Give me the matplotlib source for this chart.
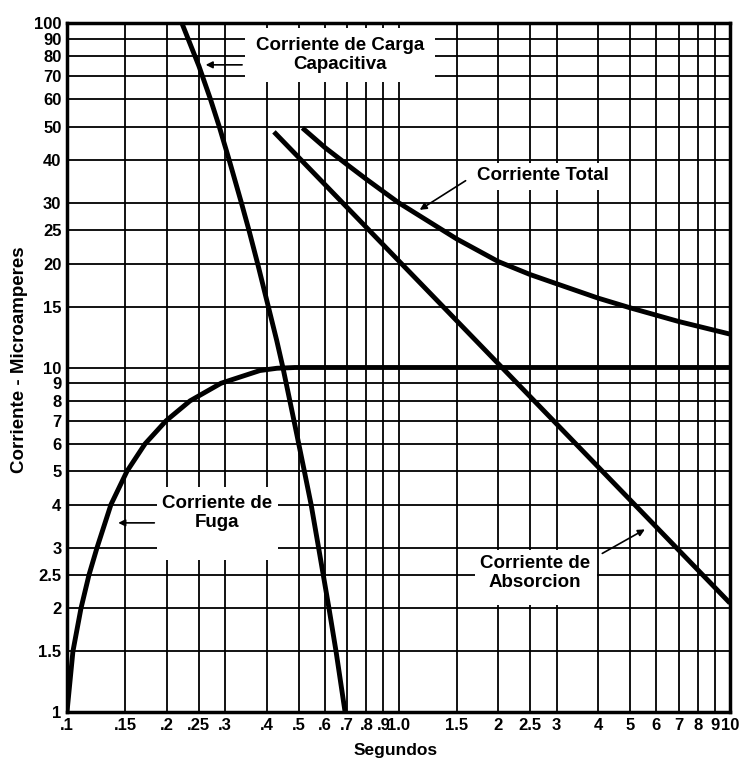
import numpy as np
import matplotlib
matplotlib.use('Agg')
import matplotlib.pyplot as plt
from matplotlib.patches import Rectangle

plt.rcParams['font.family'] = ['Liberation Sans', 'DejaVu Sans']
plt.rcParams['font.weight'] = 'bold'

# Ejes (escala logaritmica)
x_ticks = [0.1, 0.15, 0.2, 0.25, 0.3, 0.4, 0.5, 0.6, 0.7, 0.8, 0.9, 1.0,
           1.5, 2, 2.5, 3, 4, 5, 6, 7, 8, 9, 10]
x_labels = ['.1', '.15', '.2', '.25', '.3', '.4', '.5', '.6', '.7', '.8', '.9', '1.0',
            '1.5', '2', '2.5', '3', '4', '5', '6', '7', '8', '9', '10']
y_ticks = [1, 1.5, 2, 2.5, 3, 4, 5, 6, 7, 8, 9, 10,
           15, 20, 25, 30, 40, 50, 60, 70, 80, 90, 100]
y_labels = ['1', '1.5', '2', '2.5', '3', '4', '5', '6', '7', '8', '9', '10',
            '15', '20', '25', '30', '40', '50', '60', '70', '80', '90', '100']

# Corriente de carga capacitiva
cap_t = [0.222, 0.250, 0.271, 0.288, 0.3085, 0.336, 0.354, 0.376, 0.405, 0.429,
         0.448, 0.484, 0.520, 0.545, 0.574, 0.617, 0.648, 0.69]
cap_i = [100, 75, 60, 50, 40, 30, 25, 20, 15, 12,
         10, 7, 5, 4, 3, 2, 1.5, 1]

# Corriente de fuga
fuga_t = [0.1, 0.1042, 0.1102, 0.1165, 0.1232, 0.1357, 0.1517, 0.1719, 0.1989,
          0.235, 0.2914, 0.382, 0.43, 0.487, 0.7, 1.0, 2.0, 5.0, 10]
fuga_i = [1, 1.5, 2, 2.5, 3, 4, 5, 6, 7,
          8, 9, 9.8, 9.95, 10, 10, 10, 10, 10, 10]

# Corriente de absorcion
abs_t = [0.421, 10]
abs_i = [48.3, 2.07]

# Corriente total
tot_t = [0.513, 0.6, 0.7, 0.8, 0.9, 1.0, 1.5, 2.0, 2.5, 3.0, 4.0, 5.0, 7.0, 10]
tot_i = [49.6, 43.5, 38.8, 35.2, 32.4, 30.1, 23.6, 20.3, 18.6, 17.5, 15.9, 14.9, 13.6, 12.5]

fig = plt.figure(figsize=(7.42, 7.63), dpi=100)
ax = fig.add_axes([67 / 742, 51 / 763, 663 / 742, 689 / 763])
ax.set_xscale('log')
ax.set_yscale('log')
ax.set_xlim(0.1, 10)
ax.set_ylim(1, 100)
ax.set_xticks(x_ticks)
ax.set_xticklabels(x_labels)
ax.set_yticks(y_ticks)
ax.set_yticklabels(y_labels)
ax.minorticks_off()
ax.tick_params(length=0, labelsize=12, pad=4)
ax.set_axisbelow(True)
ax.grid(True, color='black', linewidth=1.3)
for sp in ax.spines.values():
    sp.set_linewidth(2.5)

# Curvas
lw = 3.5
for t, i in [(cap_t, cap_i), (fuga_t, fuga_i), (abs_t, abs_i), (tot_t, tot_i)]:
    ax.plot(t, i, color='black', lw=lw, zorder=3,
            solid_capstyle='butt', solid_joinstyle='round')

# Cajas blancas para las etiquetas
def caja(x0, x1, y0, y1):
    ax.add_patch(Rectangle((x0, y0), x1 - x0, y1 - y0, facecolor='white',
                           edgecolor='none', zorder=1))

caja(0.344, 1.289, 67.4, 96.7)
caja(0.187, 0.433, 2.76, 4.50)
caja(1.64, 4.33, 32.7, 39.2)
caja(1.70, 3.97, 2.04, 2.95)

fs = 13.5
ax.text(0.666, 80.7, 'Corriente de Carga\nCapacitiva', ha='center', va='center',
        fontsize=fs, fontweight='bold', linespacing=1.1, zorder=4)
ax.text(0.283, 3.78, 'Corriente de\nFuga', ha='center', va='center',
        fontsize=fs, fontweight='bold', linespacing=1.1, zorder=4)
ax.text(2.73, 36.2, 'Corriente Total', ha='center', va='center',
        fontsize=fs, fontweight='bold', zorder=4)
ax.text(2.58, 2.53, 'Corriente de\nAbsorcion', ha='center', va='center',
        fontsize=fs, fontweight='bold', linespacing=1.1, zorder=4)

arrow = dict(arrowstyle='-|>', color='black', lw=1.2, mutation_scale=10)
ax.annotate('', xy=(0.257, 75.6), xytext=(0.344, 75.6), arrowprops=arrow, zorder=4)
ax.annotate('', xy=(0.140, 3.54), xytext=(0.187, 3.54), arrowprops=arrow, zorder=4)
ax.annotate('', xy=(1.14, 28.4), xytext=(1.62, 35.2), arrowprops=arrow, zorder=4)
ax.annotate('', xy=(5.63, 3.42), xytext=(4.05, 2.86), arrowprops=arrow, zorder=4)

fig.text(20 / 742, 1 - 360 / 763, 'Corriente - Microamperes', rotation=90,
         ha='center', va='center', fontsize=13.5, fontweight='bold')
fig.text(396 / 742, 1 - 751 / 763, 'Segundos', ha='center', va='center',
         fontsize=12.5, fontweight='bold')

plt.savefig('out.png', dpi=100)
